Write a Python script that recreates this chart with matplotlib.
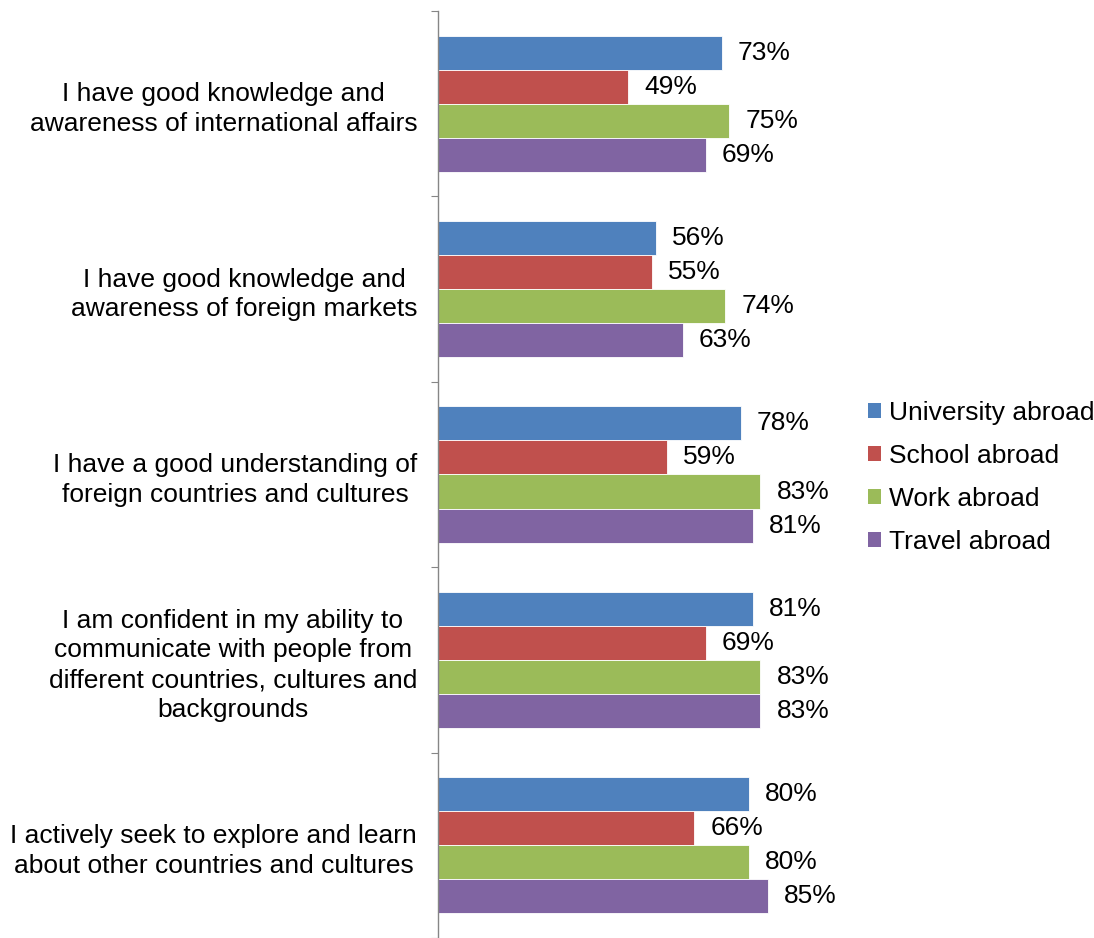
import numpy as np
import matplotlib
matplotlib.use("Agg")
import matplotlib.pyplot as plt
from matplotlib.patches import Patch

plt.rcParams['font.family'] = ['Liberation Sans', 'DejaVu Sans']

# 문항 (위에서 아래 순서)
statements = [
    "I have good knowledge and\nawareness of international affairs",
    "I have good knowledge and\nawareness of foreign markets",
    "I have a good understanding of\nforeign countries and cultures",
    "I am confident in my ability to\ncommunicate with people from\ndifferent countries, cultures and\nbackgrounds",
    "I actively seek to explore and learn\nabout other countries and cultures",
]

series_names = ["University abroad", "School abroad", "Work abroad", "Travel abroad"]
university = [73, 56, 78, 81, 80]
school = [49, 55, 59, 69, 66]
work = [75, 74, 83, 83, 80]
travel = [69, 63, 81, 83, 85]

colors = ["#4F81BD", "#C0504D", "#9BBB59", "#8064A2"]
fs = 19

fig = plt.figure(figsize=(10.94, 9.38), dpi=100)
ax = fig.add_axes([438 / 1094, 0.0, 388.5 / 1094, 1 - 11 / 938])

n = len(statements)
centers = n - (np.arange(n) + 0.5)
h = 0.1834

for k, (name, vals, c) in enumerate(zip(series_names, [university, school, work, travel], colors)):
    y = centers + (1.5 - k) * h
    bars = ax.barh(y, vals, height=h, color=c, edgecolor="white", linewidth=0.6, label=name)
    ax.bar_label(bars, labels=[f"{v}%" for v in vals], padding=11.5, fontsize=fs)

ax.set_xlim(0, 100)
ax.set_ylim(0, n)

# 구분선 눈금은 major, 문항 라벨은 minor
ax.set_yticks(np.arange(n + 1))
ax.set_yticklabels([])
ax.set_yticks(centers, minor=True)
ax.set_yticklabels(statements, minor=True, fontsize=fs, multialignment="center",
                   linespacing=1.3)
ax.tick_params(axis="y", which="major", direction="out", length=5, color="#868686")
ax.tick_params(axis="y", which="minor", length=0, pad=15)
ax.set_xticks([])

for s in ["top", "right", "bottom"]:
    ax.spines[s].set_visible(False)
ax.spines["left"].set_color("#868686")
ax.spines["left"].set_linewidth(1.0)

handles = [Patch(facecolor=c, edgecolor="none") for c in colors]
fig.legend(handles, series_names, loc="center left",
           bbox_to_anchor=(868 / 1094, 1 - 477.5 / 938), frameon=False,
           fontsize=fs, handlelength=0.5, handleheight=0.5, handletextpad=0.28,
           labelspacing=0.72, borderpad=0, borderaxespad=0)

fig.savefig("out.png", dpi=100)
